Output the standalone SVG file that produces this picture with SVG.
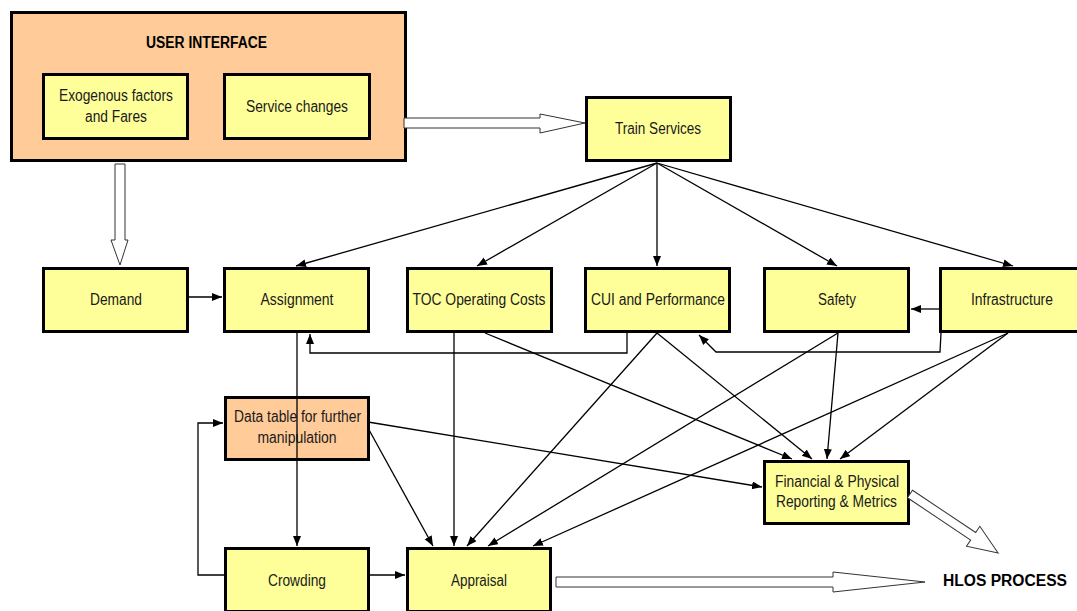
<svg xmlns="http://www.w3.org/2000/svg" width="1077" height="611" viewBox="0 0 1077 611">
<style>
.box{stroke:#000;stroke-width:3}
.y{fill:#FFFF99}
.o{fill:#FFCC99}
.t{font-family:"Liberation Sans",Arial,sans-serif;font-size:16px;fill:#1a1a1a;text-anchor:middle}
.b{font-weight:bold;fill:#000}
.c{fill:none;stroke:#000;stroke-width:1.3}
.blk{fill:#fff;stroke:#333;stroke-width:1}
</style>
<defs>
<marker id="ah" markerUnits="userSpaceOnUse" markerWidth="11" markerHeight="9" refX="10" refY="4" orient="auto">
<path d="M0,0 L10,4 L0,8 z" fill="#000"/>
</marker>
</defs>
<rect width="1077" height="611" fill="#fff"/>

<g id="user-interface">
<rect class="box o" x="11.5" y="12.5" width="394" height="148"/>
<text class="t b" x="206.5" y="48" textLength="121" lengthAdjust="spacingAndGlyphs">USER INTERFACE</text>
</g>
<g id="exogenous">
<rect class="box y" x="43.5" y="74.5" width="144" height="64"/>
<text class="t" x="116" y="101" textLength="114" lengthAdjust="spacingAndGlyphs">Exogenous factors</text>
<text class="t" x="116" y="122" textLength="62" lengthAdjust="spacingAndGlyphs">and Fares</text>
</g>
<g id="service-changes">
<rect class="box y" x="224.5" y="74.5" width="145" height="64"/>
<text class="t" x="297" y="112" textLength="102" lengthAdjust="spacingAndGlyphs">Service changes</text>
</g>
<g id="train-services">
<rect class="box y" x="586.5" y="97.5" width="144" height="63"/>
<text class="t" x="658" y="134" textLength="86" lengthAdjust="spacingAndGlyphs">Train Services</text>
</g>
<g id="demand">
<rect class="box y" x="43.5" y="268.5" width="144" height="63"/>
<text class="t" x="116" y="305" textLength="52" lengthAdjust="spacingAndGlyphs">Demand</text>
</g>
<g id="assignment">
<rect class="box y" x="224.5" y="268.5" width="144" height="63"/>
<text class="t" x="297" y="305" textLength="73" lengthAdjust="spacingAndGlyphs">Assignment</text>
</g>
<g id="toc-operating-costs">
<rect class="box y" x="407.5" y="268.5" width="144" height="63"/>
<text class="t" x="479" y="305" textLength="133" lengthAdjust="spacingAndGlyphs">TOC Operating Costs</text>
</g>
<g id="cui-performance">
<rect class="box y" x="585.5" y="268.5" width="144" height="63"/>
<text class="t" x="658" y="305" textLength="134" lengthAdjust="spacingAndGlyphs">CUI and Performance</text>
</g>
<g id="safety">
<rect class="box y" x="764.5" y="268.5" width="144" height="63"/>
<text class="t" x="837" y="305" textLength="38" lengthAdjust="spacingAndGlyphs">Safety</text>
</g>
<g id="infrastructure">
<rect class="box y" x="940.5" y="268.5" width="144" height="63"/>
<text class="t" x="1012" y="305" textLength="82" lengthAdjust="spacingAndGlyphs">Infrastructure</text>
</g>
<g id="data-table">
<rect class="box o" x="225.5" y="397.5" width="143" height="62"/>
<text class="t" x="297.5" y="422" textLength="127" lengthAdjust="spacingAndGlyphs">Data table for further</text>
<text class="t" x="297" y="443" textLength="79" lengthAdjust="spacingAndGlyphs">manipulation</text>
</g>
<g id="crowding">
<rect class="box y" x="225.5" y="548.5" width="143" height="63"/>
<text class="t" x="297" y="586" textLength="58" lengthAdjust="spacingAndGlyphs">Crowding</text>
</g>
<g id="appraisal">
<rect class="box y" x="407.5" y="548.5" width="143" height="63"/>
<text class="t" x="479" y="586" textLength="56" lengthAdjust="spacingAndGlyphs">Appraisal</text>
</g>
<g id="financial">
<rect class="box y" x="764.5" y="461.5" width="144" height="62"/>
<text class="t" x="837" y="487" textLength="124" lengthAdjust="spacingAndGlyphs">Financial &amp; Physical</text>
<text class="t" x="836.5" y="507" textLength="121" lengthAdjust="spacingAndGlyphs">Reporting &amp; Metrics</text>
</g>
<g id="hlos-process">
<text class="t b" x="1005" y="586" textLength="124" lengthAdjust="spacingAndGlyphs">HLOS PROCESS</text>
</g>

<g id="connectors">
<path class="c" marker-end="url(#ah)" d="M657,163 L296,266"/>
<path class="c" marker-end="url(#ah)" d="M657,163 L477,266"/>
<path class="c" marker-end="url(#ah)" d="M657,163 L657,266"/>
<path class="c" marker-end="url(#ah)" d="M657,163 L837,266"/>
<path class="c" marker-end="url(#ah)" d="M657,163 L1013,266"/>
<path class="c" marker-end="url(#ah)" d="M189,297 L222,297"/>
<path class="c" marker-end="url(#ah)" d="M939,309 L911,309"/>
<path class="c" marker-end="url(#ah)" d="M941,333 L940,352 L716,352 L699,335"/>
<path class="c" marker-end="url(#ah)" d="M627,333 L627,353 L310,353 L310,334"/>
<path class="c" marker-end="url(#ah)" d="M297,333 L297,546"/>
<path class="c" marker-end="url(#ah)" d="M224,575 L198,575 L198,423 L223,423"/>
<path class="c" marker-end="url(#ah)" d="M370,575 L405,575"/>
<path class="c" marker-end="url(#ah)" d="M368,428 L433,546"/>
<path class="c" marker-end="url(#ah)" d="M368,422 L762,487"/>
<path class="c" marker-end="url(#ah)" d="M454,333 L454,546"/>
<path class="c" marker-end="url(#ah)" d="M485,333 L792,459"/>
<path class="c" marker-end="url(#ah)" d="M657,333 L467,546"/>
<path class="c" marker-end="url(#ah)" d="M657,333 L812,459"/>
<path class="c" marker-end="url(#ah)" d="M838,333 L488,546"/>
<path class="c" marker-end="url(#ah)" d="M838,333 L827,459"/>
<path class="c" marker-end="url(#ah)" d="M1008,333 L533,546"/>
<path class="c" marker-end="url(#ah)" d="M1008,333 L840,459"/>
<polygon class="blk" points="404,118 540,118 540,114 585,123 540,133 540,128 404,128"/>
<polygon class="blk" points="115,164 125,164 125,240 128,240 120,265 111,240 115,240"/>
<polygon class="blk" points="556,577 833,577 833,572 925,582 833,592 833,587 556,587"/>
<polygon class="blk" transform="translate(910,494) rotate(33.8)" points="0,-4.5 76,-4.5 76,-12 106,0 76,12 76,4.5 0,4.5"/>
</g>
</svg>
